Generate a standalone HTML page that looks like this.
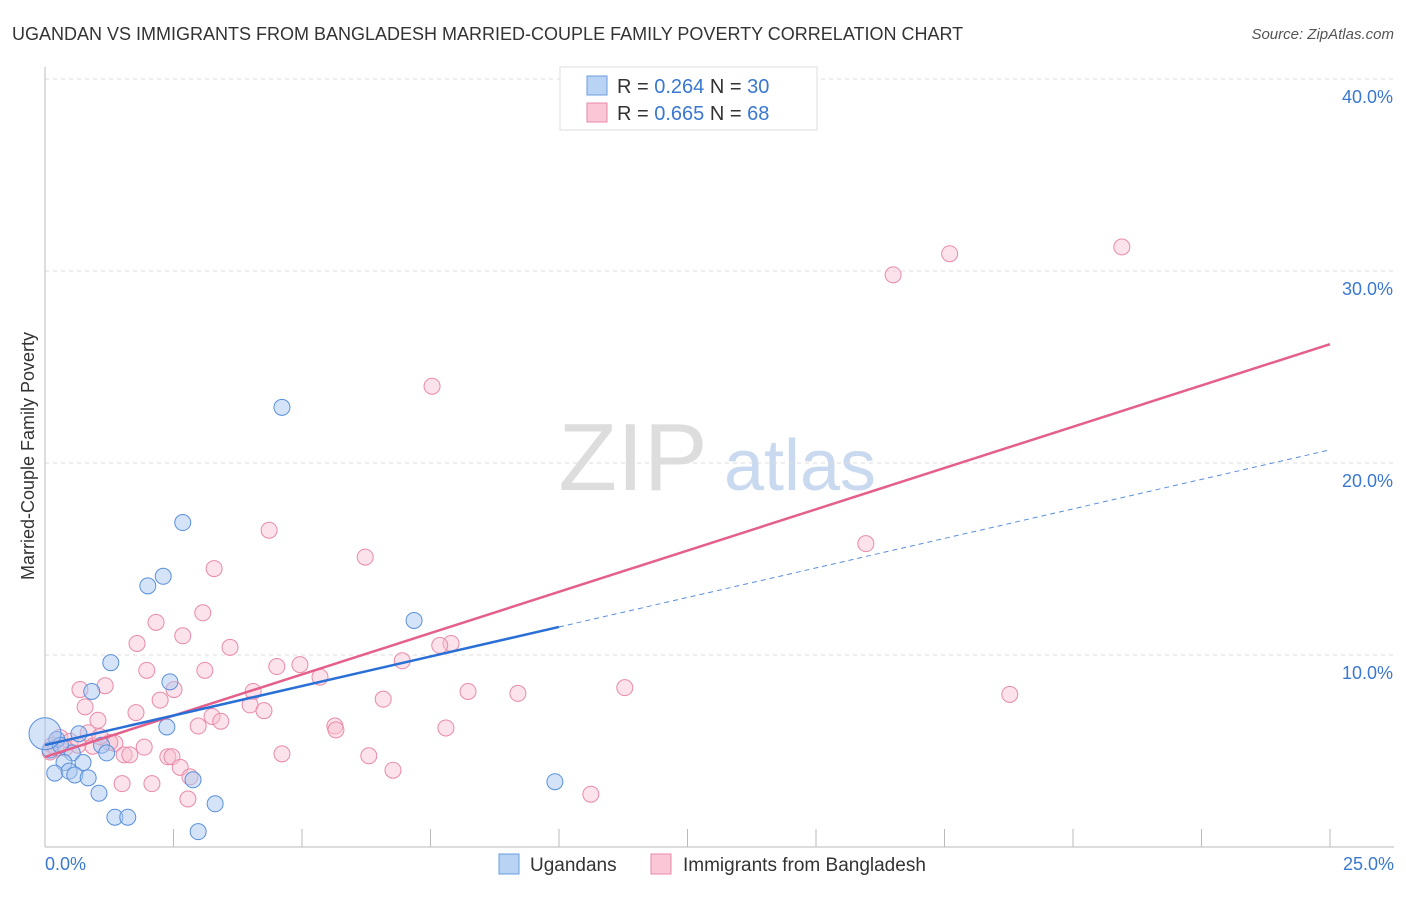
<!DOCTYPE html>
<html><head><meta charset="utf-8"><style>
body{margin:0;background:#fff;font-family:"Liberation Sans",sans-serif}
svg text{font-family:"Liberation Sans",sans-serif}
</style></head><body>
<svg width="1406" height="892" xmlns="http://www.w3.org/2000/svg" id="chart">
<text x="12" y="40" font-size="18" fill="#333">UGANDAN VS IMMIGRANTS FROM BANGLADESH MARRIED-COUPLE FAMILY POVERTY CORRELATION CHART</text>
<text x="1394" y="39" font-size="15" fill="#555" font-style="italic" text-anchor="end">Source: ZipAtlas.com</text>
<text x="633" y="490" font-size="96" fill="#ddd" font-family="Liberation Serif" text-anchor="middle">ZIP</text>
<text x="800" y="490" font-size="72" fill="#c9d9ef" text-anchor="middle">atlas</text>
<text transform="translate(34,456) rotate(-90)" font-size="18" fill="#333" text-anchor="middle">Married-Couple Family Poverty</text>
<g id="grid"></g><g id="axes"></g><g id="pts"></g><g id="lines"></g>
<g>
<rect x="560" y="67" width="257" height="63" fill="#fff" stroke="#ddd"/>
<rect x="587" y="76" width="20" height="19" fill="#b9d3f5" stroke="#6a9ee0"/>
<rect x="587" y="103" width="20" height="19" fill="#f9c7d6" stroke="#e98aa8"/>
<text x="617" y="93" font-size="20" fill="#333">R = <tspan fill="#3a78d0">0.264</tspan>   N = <tspan fill="#3a78d0">30</tspan></text>
<text x="617" y="120" font-size="20" fill="#333">R = <tspan fill="#3a78d0">0.665</tspan>   N = <tspan fill="#3a78d0">68</tspan></text>
</g>
<g>
<rect x="499" y="854" width="20" height="20" fill="#b9d3f5" stroke="#6a9ee0"/>
<text x="530" y="871" font-size="19" fill="#333">Ugandans</text>
<rect x="651" y="854" width="20" height="20" fill="#f9c7d6" stroke="#e98aa8"/>
<text x="683" y="871" font-size="19" fill="#333">Immigrants from Bangladesh</text>
</g>
</svg>
<script>
const blueX=[4.61,2.68,2.30,2.0,7.18,1.28,2.43,0.91,2.37,0.66,0.23,1.1,1.2,0.53,0.37,0.74,0.19,0.47,0.58,0.84,2.88,9.92,1.05,3.31,1.36,1.61,2.98,0.1,0.3];
const blueY=[22.9,16.9,14.1,13.6,11.8,9.6,8.6,8.1,6.25,5.9,5.6,5.3,4.9,4.9,4.4,4.4,3.85,3.95,3.75,3.6,3.5,3.4,2.8,2.25,1.55,1.55,0.8,5.05,5.3];
const pinkX=[20.95,17.6,16.5,7.53,15.97,4.36,6.23,3.29,3.07,2.16,2.68,1.79,3.6,7.9,7.68,6.95,4.51,4.96,1.98,3.11,5.35,0.68,1.17,2.51,2.24,8.23,9.2,11.28,18.77,6.58,4.05,3.99,4.26,1.77,0.78,1.03,3.25,3.42,2.98,5.64,5.66,7.8,0.84,0.29,0.49,1.36,1.93,0.93,0.14,0.1,1.54,1.65,2.39,2.47,4.61,6.3,2.63,6.77,2.82,1.5,2.08,2.78,10.62,0.64,1.26,0.21,0.39,1.07];
const pinkY=[31.25,30.9,29.8,24.0,15.8,16.5,15.1,14.5,12.2,11.7,11.0,10.6,10.4,10.6,10.5,9.7,9.4,9.5,9.2,9.2,8.85,8.2,8.4,8.2,7.65,8.1,8.0,8.3,7.95,7.7,8.1,7.4,7.1,7.0,7.3,6.6,6.8,6.55,6.3,6.3,6.1,6.2,5.95,5.7,5.5,5.4,5.2,5.25,5.3,4.95,4.8,4.8,4.7,4.7,4.85,4.75,4.15,4.0,3.65,3.3,3.3,2.5,2.75,5.3,5.45,5.15,5.15,5.75];
const blueFit=[5.31,0.615]; // intercept, slope
const pinkFit=[4.69,0.86];
const xTicks=["0.0%","25.0%"];
const yTicks=[10,20,30,40];
const xs=v=>45+v*51.4, ys=v=>847-v*19.2;
const NS="http://www.w3.org/2000/svg";
function mk(tag,attrs,parent){const e=document.createElementNS(NS,tag);for(const k in attrs)e.setAttribute(k,attrs[k]);document.getElementById(parent).appendChild(e);return e;}
yTicks.forEach(t=>{
 const l=mk('line',{x1:45,x2:1394,y1:ys(t),y2:ys(t),stroke:'#ddd','stroke-dasharray':'4,4'},'grid');
 
 
 const tx=mk('text',{x:1393,y:ys(t)+24,'font-size':18,fill:'#3a78d0','text-anchor':'end'},'grid');
 tx.textContent=t.toFixed(1)+'%';
 
 
});
const ax=mk('line',{x1:45,x2:45,y1:67,y2:847,stroke:'#bbb'},'axes');


const bx=mk('line',{x1:45,x2:1394,y1:847,y2:847,stroke:'#bbb'},'axes');


for(let i=1;i<=10;i++){const t=mk('line',{x1:xs(i*2.5),x2:xs(i*2.5),y1:829,y2:847,stroke:'#bbb'},'axes');
 
 }
[[0,'start',45],[1,'end',1394]].forEach(([i,a,x])=>{const t=mk('text',{x:x,y:870,'font-size':18,fill:'#3a78d0','text-anchor':a},'axes');t.textContent=xTicks[i];
 
 });
pinkX.forEach((v,i)=>{const c=mk('circle',{cx:xs(v),cy:ys(pinkY[i]),r:8,fill:'rgba(249,190,208,0.45)',stroke:'#e98aa8','stroke-width':1},'pts');
 
 });
blueX.forEach((v,i)=>{const c=mk('circle',{cx:xs(v),cy:ys(blueY[i]),r:8,fill:'rgba(170,200,240,0.5)',stroke:'#5a90dc','stroke-width':1},'pts');
 
 });
const big=mk('circle',{cx:xs(0),cy:ys(5.9),r:16,fill:'rgba(170,200,240,0.5)',stroke:'#5a90dc'},'pts');


const pl=mk('line',{x1:xs(0),y1:ys(pinkFit[0]),x2:xs(25),y2:ys(pinkFit[0]+25*pinkFit[1]),stroke:'#e4608a','stroke-width':2.5},'lines');


const bl=mk('line',{x1:xs(0),y1:ys(blueFit[0]),x2:xs(10),y2:ys(blueFit[0]+10*blueFit[1]),stroke:'#2a6fd6','stroke-width':2.5},'lines');


const bd=mk('line',{x1:xs(10),y1:ys(blueFit[0]+10*blueFit[1]),x2:xs(25),y2:ys(blueFit[0]+25*blueFit[1]),stroke:'#5a8fdc','stroke-width':1,'stroke-dasharray':'5,4'},'lines');


</script>
</body></html>
